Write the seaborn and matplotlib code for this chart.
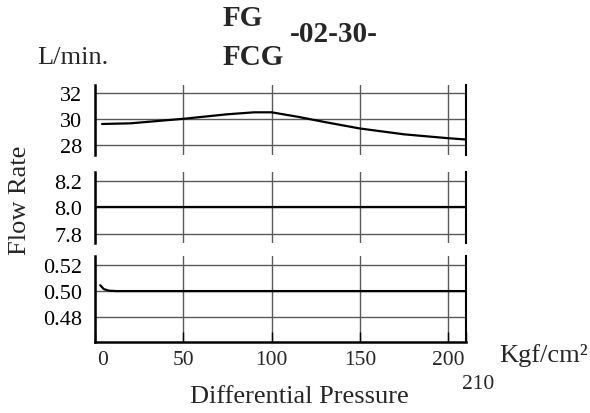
import numpy as np
import pandas as pd
import matplotlib
matplotlib.use("Agg")
import matplotlib.pyplot as plt
import matplotlib.transforms as mtransforms
import seaborn as sns

# Values
top_x = [4, 20, 50, 75, 90, 100, 115, 130, 150, 175, 200, 210]
top_y = [29.6, 29.65, 30.0, 30.35, 30.5, 30.5, 30.15, 29.75, 29.25, 28.8, 28.5, 28.4]
mid_x = [0, 210]
mid_y = [8.0, 8.0]
bot_x = [3, 5, 8, 12, 210]
bot_y = [0.5045, 0.5015, 0.5003, 0.5, 0.5]

top_ticks = [28, 30, 32]
mid_ticks = [7.8, 8.0, 8.2]
mid_labels = ["7.8", "8.0", "8.2"]
bot_ticks = [0.48, 0.50, 0.52]
bot_labels = ["0.48", "0.50", "0.52"]
x_ticks = [0, 50, 100, 150, 200, 210]
x_labels = ["0", "50", "100", "150", "200", "210"]

sns.set_theme(style="white")
plt.rcParams['font.family'] = ['Liberation Serif', 'DejaVu Serif']
plt.rcParams['mathtext.fontset'] = 'stix'

fig = plt.figure(figsize=(5.9, 4.14), dpi=100)

# panel rectangles (figure fraction)
ax_top = fig.add_axes([0.161, 0.623, 0.629, 0.169])
ax_mid = fig.add_axes([0.161, 0.411, 0.629, 0.1715])
ax_bot = fig.add_axes([0.161, 0.1715, 0.629, 0.2077])

panels = [
    (ax_top, top_x, top_y, top_ticks, None, (27.2, 32.6)),
    (ax_mid, mid_x, mid_y, mid_ticks, mid_labels, (7.73, 8.266)),
    (ax_bot, bot_x, bot_y, bot_ticks, bot_labels, (0.4608, 0.527)),
]

grid_col = "#5a5a5a"
for ax, xs, ys, yt, yl, ylim in panels:
    df = pd.DataFrame({"x": xs, "y": ys})
    sns.lineplot(data=df, x="x", y="y", ax=ax, color="black", linewidth=1.6, zorder=3)
    ax.set_xlim(0, 210)
    ax.set_ylim(*ylim)
    ax.set_yticks(yt)
    if yl is not None:
        ax.set_yticklabels(yl)
    ax.set_xticks(x_ticks)
    ax.grid(True, color=grid_col, linewidth=1.0)
    ax.set_xlabel("")
    ax.set_ylabel("")
    ax.tick_params(axis="y", length=0, pad=9, labelsize=16, colors="black")
    for s in ["top", "bottom"]:
        ax.spines[s].set_visible(False)
    ax.spines["left"].set_linewidth(1.8)
    ax.spines["right"].set_linewidth(1.5)
    ax.spines["left"].set_color("black")
    ax.spines["right"].set_color("black")
    if ax is not ax_bot:
        ax.tick_params(axis="x", length=0, labelbottom=False)

ax_bot.spines["bottom"].set_visible(True)
ax_bot.spines["bottom"].set_linewidth(1.8)
ax_bot.spines["bottom"].set_color("black")
ax_bot.set_xticklabels(x_labels)
ax_bot.tick_params(axis="x", direction="in", length=7, width=1.0, color="black",
                   pad=6, labelsize=15.5, bottom=True)

# nudge the first and last tick labels like in the reference
labs = ax_bot.get_xticklabels()
labs[0].set_transform(labs[0].get_transform() +
                      mtransforms.ScaledTranslation(8 / 100, 0, fig.dpi_scale_trans))
labs[-1].set_transform(labs[-1].get_transform() +
                       mtransforms.ScaledTranslation(12 / 100, -24 / 100, fig.dpi_scale_trans))

# titles and labels
fig.text(0.378, 0.9565, "FG", fontsize=21, fontweight="bold", ha="left", va="center")
fig.text(0.378, 0.862, "FCG", fontsize=21, fontweight="bold", ha="left", va="center")
fig.text(0.4915, 0.9155, "-02-30-", fontsize=21, fontweight="bold", ha="left", va="center")
fig.text(0.0627, 0.86, "L/min.", fontsize=19, ha="left", va="center")
fig.text(0.034, 0.517, "Flow Rate", fontsize=19, rotation=90, ha="center", va="center")
fig.text(0.508, 0.04, "Differential Pressure", fontsize=19, ha="center", va="center")
fig.text(0.846, 0.142, "Kgf/cm²", fontsize=19, ha="left", va="center")

fig.savefig("out.png", dpi=100)
